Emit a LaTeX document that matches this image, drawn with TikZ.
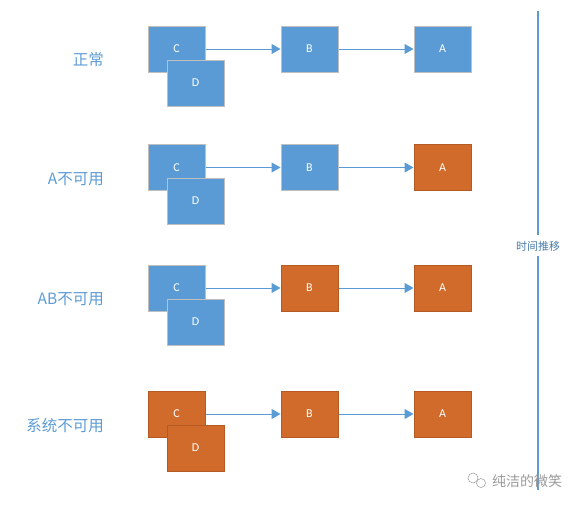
\documentclass[tikz,border=0pt]{standalone}
\usepackage{fontspec}
\setmainfont{Carlito}
\newfontfamily\cjk{Noto Sans CJK SC}
\usetikzlibrary{arrows.meta}
\definecolor{bluebox}{HTML}{5B9BD5}
\definecolor{bluedge}{HTML}{BFBFBF}
\definecolor{orangebox}{HTML}{D06B2C}
\definecolor{orangedge}{HTML}{B45A22}
\definecolor{labelblue}{HTML}{5B9BD5}
\definecolor{wmgray}{HTML}{9A9A9A}
\begin{document}
\begin{tikzpicture}[x=1pt,y=-1pt,
  box/.style={draw, line width=1pt, minimum width=57pt, minimum height=46pt, inner sep=0pt,
    text=white, font=\fontsize{12}{12}\selectfont},
  okbox/.style={box, fill=bluebox, draw=bluedge},
  badbox/.style={box, fill=orangebox, draw=orangedge},
  conn/.style={draw=labelblue, line width=1pt, -{Triangle[length=9pt,width=10pt]}},
  rowlabel/.style={anchor=east, text=labelblue, font=\cjk\fontsize{15.5}{15.5}\selectfont},
  every node/.style={inner sep=0pt}]
\useasboundingbox (0,0) rectangle (582,507);
% row 1
\node[okbox] (c1) at (176.5,49) {C};
\node[okbox] (d1) at (195.5,83) {D};
\node[okbox] (b1) at (309.5,49) {B};
\node[okbox] (a1) at (442.5,49) {A};
\node[rowlabel] (l1) at (104,60) {正常};
% row 2
\node[okbox] (c2) at (176.5,167.5) {C};
\node[okbox] (d2) at (195.5,201) {D};
\node[okbox] (b2) at (309.5,167.5) {B};
\node[badbox] (a2) at (442.5,167.5) {A};
\node[rowlabel] (l2) at (104,179) {A不可用};
% row 3
\node[okbox] (c3) at (176.5,288) {C};
\node[okbox] (d3) at (195.5,322) {D};
\node[badbox] (b3) at (309.5,288) {B};
\node[badbox] (a3) at (442.5,288) {A};
\node[rowlabel] (l3) at (104,299) {AB不可用};
% row 4
\node[badbox] (c4) at (176.5,414) {C};
\node[badbox] (d4) at (195.5,448) {D};
\node[badbox] (b4) at (309.5,414) {B};
\node[badbox] (a4) at (442.5,414) {A};
\node[rowlabel] (l4) at (104,426) {系统不可用};
% connectors
\foreach \r in {1,2,3,4}{
  \draw[conn] (c\r.east) -- (b\r.west);
  \draw[conn] (b\r.east) -- (a\r.west);
}
% time axis
\node[text=labelblue!80!black, font=\cjk\fontsize{11}{11}\selectfont] (tl) at (538,246) {时间推移};
\coordinate (ttop) at (538,11);
\coordinate (tbot) at (538,490);
\draw[draw=labelblue, line width=1.2pt] (ttop) -- (538,235);
\draw[draw=labelblue, line width=1.2pt] (538,256) -- (tbot);
% watermark
\draw[wmgray, line width=0.5pt] (473,478) circle (5pt);
\draw[wmgray, line width=0.5pt, fill=white] (481,483) circle (4.5pt);
\node[anchor=west, text=wmgray, font=\cjk\fontsize{14}{14}\selectfont] (wm) at (492,481) {纯洁的微笑};
\end{tikzpicture}
\end{document}
